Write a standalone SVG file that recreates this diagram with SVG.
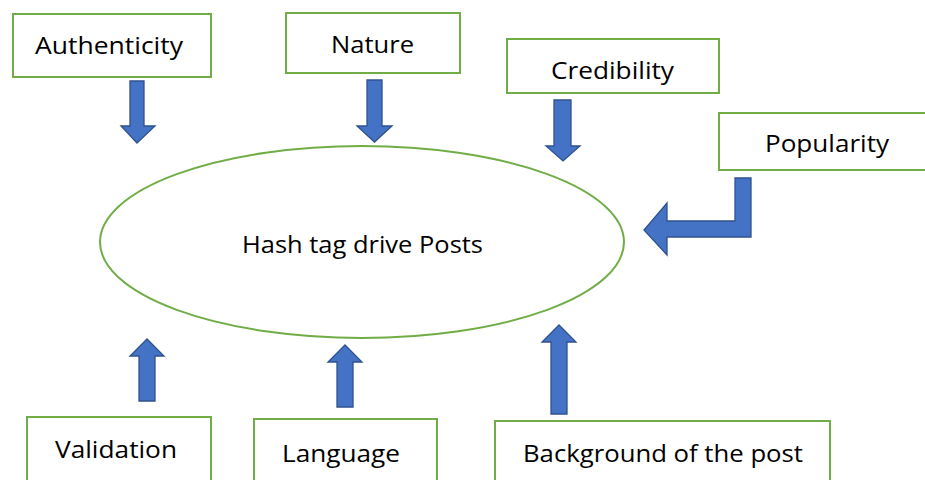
<svg xmlns="http://www.w3.org/2000/svg" width="925" height="480" viewBox="0 0 925 480">
  <style>
    .box { fill: #ffffff; stroke: #70AD47; stroke-width: 2; }
    .hub { fill: #ffffff; stroke: #70AD47; stroke-width: 2; }
    .arrow { fill: #4472C4; stroke: #2F528F; stroke-width: 1.3; stroke-linejoin: miter; }
    .label { font-family: "Open Sans", "Noto Sans", sans-serif; font-size: 24.5px; fill: #000000; }
  </style>

  <!-- central ellipse -->
  <g id="hub">
    <ellipse class="hub" cx="362" cy="242" rx="262" ry="96"/>
    <text class="label" x="242" y="253" textLength="241" lengthAdjust="spacingAndGlyphs">Hash tag drive Posts</text>
  </g>

  <!-- factor boxes -->
  <g id="authenticity">
    <rect class="box" x="13" y="14" width="198" height="63"/>
    <text class="label" x="35" y="54" textLength="148" lengthAdjust="spacingAndGlyphs">Authenticity</text>
  </g>
  <g id="nature">
    <rect class="box" x="286" y="13" width="174" height="60"/>
    <text class="label" x="331" y="53" textLength="83" lengthAdjust="spacingAndGlyphs">Nature</text>
  </g>
  <g id="credibility">
    <rect class="box" x="507" y="39" width="212" height="54"/>
    <text class="label" x="551" y="79" textLength="123" lengthAdjust="spacingAndGlyphs">Credibility</text>
  </g>
  <g id="popularity">
    <rect class="box" x="719" y="113" width="216" height="57"/>
    <text class="label" x="765" y="152" textLength="124" lengthAdjust="spacingAndGlyphs">Popularity</text>
  </g>
  <g id="validation">
    <rect class="box" x="27" y="417" width="184" height="80"/>
    <text class="label" x="55" y="458" textLength="122" lengthAdjust="spacingAndGlyphs">Validation</text>
  </g>
  <g id="language">
    <rect class="box" x="254" y="419" width="183" height="80"/>
    <text class="label" x="282" y="462" textLength="118" lengthAdjust="spacingAndGlyphs">Language</text>
  </g>
  <g id="background">
    <rect class="box" x="495" y="421" width="335" height="80"/>
    <text class="label" x="523" y="462" textLength="280" lengthAdjust="spacingAndGlyphs">Background of the post</text>
  </g>

  <!-- block arrows pointing into the ellipse -->
  <g id="connectors">
    <path class="arrow" d="M130,81 H144 V126 H155 L137,143 L121,126 H130 Z"/>
    <path class="arrow" d="M367,80 H382 V126 H392 L374.5,142 L357,126 H367 Z"/>
    <path class="arrow" d="M554,100 H571 V146 H580 L563,161 L546,146 H554 Z"/>
    <path class="arrow" d="M735,178 H751 V237 H667 V255 L644,230 L667,203 V221 H735 Z"/>
    <path class="arrow" d="M139,401 H155 V356 H164 L147,339 L130,356 H139 Z"/>
    <path class="arrow" d="M337,407 H353 V362 H362 L345,345 L328,362 H337 Z"/>
    <path class="arrow" d="M551,414 H567 V342 H576 L559,325 L542,342 H551 Z"/>
  </g>
</svg>
